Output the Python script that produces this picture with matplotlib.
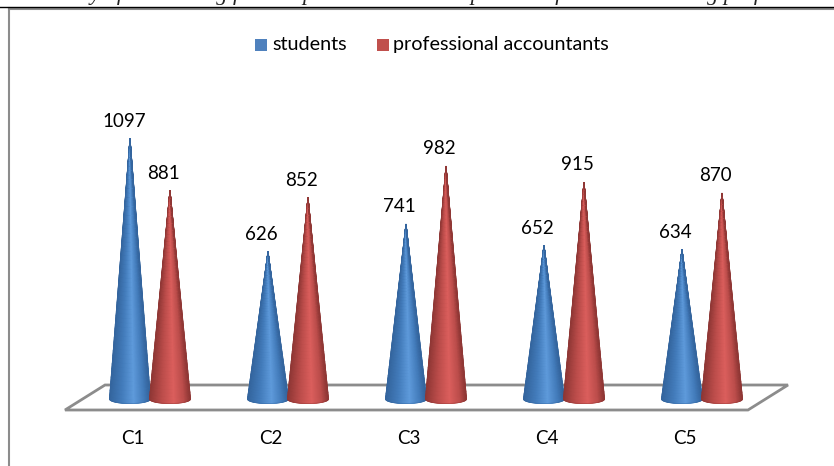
import numpy as np
import matplotlib
matplotlib.use('Agg')
import matplotlib.pyplot as plt
from matplotlib.colors import LinearSegmentedColormap
from matplotlib.patches import Polygon, Rectangle

categories = ['C1', 'C2', 'C3', 'C4', 'C5']
students = [1097, 626, 741, 652, 634]
accountants = [881, 852, 982, 915, 870]
series_names = ['students', 'professional accountants']
caption = 'and a Study of accounting field: report results and implication for the accounting profession'

W, H = 834, 466
PX_PER_UNIT = 0.24
BASE_PX = 402


def px_x(px):
    return (px - 150) / 138


def px_y(py):
    return (BASE_PX - py) / PX_PER_UNIT


blue_cmap = LinearSegmentedColormap.from_list(
    'b', [(0, '#34659e'), (0.3, '#437cbb'), (0.6, '#5f9bdc'), (0.85, '#437cbb'), (1, '#34659e')])
red_cmap = LinearSegmentedColormap.from_list(
    'r', [(0, '#8f3735'), (0.3, '#bc4d4b'), (0.6, '#dc5f5d'), (0.85, '#bc4d4b'), (1, '#8f3735')])


def draw_cone(ax, cx, value, cmap, edge):
    # mesh over the cone surface, u across and v up to the tip
    u = np.linspace(-1, 1, 81)
    v = np.linspace(0, 1, 60)
    U, V = np.meshgrid(u, v)
    half = 20.5 / 138
    lift = 3 / PX_PER_UNIT
    drop = 4.5 / PX_PER_UNIT
    X = cx + U * half * (1 - V)
    Y = value * V + (lift - drop * np.sqrt(1 - U ** 2)) * (1 - V)
    ax.pcolormesh(X, Y, (U + 1) / 2, cmap=cmap, shading='gouraud', vmin=0, vmax=1, zorder=3)
    # soft outline, the mesh itself has hard pixel edges
    ax.plot(X[:, 0], Y[:, 0], color=edge, lw=0.6, alpha=0.45, zorder=3)
    ax.plot(X[:, -1], Y[:, -1], color=edge, lw=0.6, alpha=0.45, zorder=3)
    ax.plot(X[0, :], Y[0, :], color=edge, lw=0.6, alpha=0.45, zorder=3)


fig = plt.figure(figsize=(W / 100, H / 100), dpi=100)
ax = fig.add_axes([0, 0, 1, 1])
ax.set_xlim(px_x(0), px_x(W))
ax.set_ylim(px_y(H), px_y(0))
ax.axis('off')
plt.rcParams['font.family'] = ['Lato', 'DejaVu Sans']

# floor of the 3d plot
floor = [(px_x(65), px_y(410)), (px_x(105), px_y(385)), (px_x(788), px_y(385)), (px_x(748), px_y(410))]
ax.add_patch(Polygon(floor, closed=True, fc='white', ec='#8c8c8c', lw=2, zorder=1))

offset = 20 / 138
for i, name in enumerate(categories):
    draw_cone(ax, i - offset, students[i], blue_cmap, '#34659e')
    draw_cone(ax, i + offset, accountants[i], red_cmap, '#8f3735')
    ax.text(i - offset - 0.045, students[i] + 50, str(students[i]), fontsize=13.5, ha='center', va='baseline', zorder=4)
    ax.text(i + offset - 0.045, accountants[i] + 50, str(accountants[i]), fontsize=13.5, ha='center', va='baseline', zorder=4)
    ax.text(i - 0.123, px_y(439), name, fontsize=13.5, ha='center', va='center')

# outer chart frame, with the rule and cut off caption of the page above it
ax.plot([px_x(9), px_x(9)], [px_y(H), px_y(8)], color='#8c8c8c', lw=1.5)
ax.plot([px_x(9), px_x(W)], [px_y(8.5), px_y(8.5)], color='#8c8c8c', lw=1.5)
ax.plot([px_x(0), px_x(W)], [px_y(6.5), px_y(6.5)], color='black', lw=1)
ax.text(px_x(-5), px_y(0), caption, fontsize=16, style='italic', family='Liberation Serif', color='#222222', va='baseline')

# legend
ax.add_patch(Rectangle((px_x(255), px_y(51)), 12 / 138, 12 / PX_PER_UNIT, fc='#4f81bd', ec='none'))
ax.add_patch(Rectangle((px_x(377), px_y(51)), 12 / 138, 12 / PX_PER_UNIT, fc='#c0504d', ec='none'))
ax.text(px_x(272), px_y(44), series_names[0], fontsize=14.2, va='center')
ax.text(px_x(393), px_y(44), series_names[1], fontsize=14.2, va='center')

fig.savefig('out.png', dpi=100)
